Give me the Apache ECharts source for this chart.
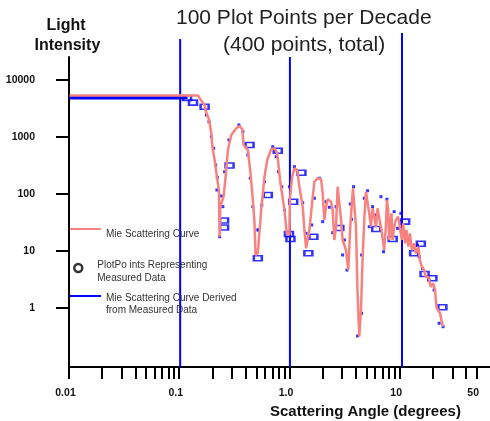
<!DOCTYPE html>
<html>
<head>
<meta charset="utf-8">
<script src="https://cdn.jsdelivr.net/npm/echarts@6/dist/echarts.min.js"></script>
<style>
html,body{margin:0;padding:0;background:#fff;}
#chart{width:490px;height:421px;}
</style>
</head>
<body>
<div id="chart"></div>
<script>
// ---- Data ----
// Mie scattering curve (pink)
const mieAngle = [0.0101,0.02,0.05,0.1,0.148,0.1555,0.170,0.1738,0.1861,0.1956,0.1998,0.2096,0.2198,0.2292,0.2326,0.2360,0.2527,0.2635,0.2764,0.2968,0.3293,0.3528,0.3731,0.3835,0.4195,0.4436,0.4655,0.4824,0.4925,0.5166,0.5543,0.5940,0.6284,0.6831,0.7315,0.7739,0.8290,0.9011,0.9454,1.0,1.01,1.058,1.110,1.174,1.231,1.319,1.367,1.416,1.464,1.517,1.592,1.684,1.804,1.936,2.002,2.074,2.149,2.222,2.385,2.466,2.554,2.646,2.736,2.835,2.938,3.037,3.26,3.42,3.565,3.664,3.772,3.875,4.013,4.149,4.30,4.456,4.606,4.773,4.945,5.113,5.297,5.489,5.674,5.879,6.091,6.297,6.523,6.842,7.237,7.50,7.659,7.868,8.035,8.204,8.43,8.606,8.917,9.24,9.69,10.1,10.47,10.76,11.21,11.52,12.01,12.37,12.9,13.53,14.02,14.79,15.23,15.88,16.66,17.26,18.22,19.16,20.1,20.96,21.27,21.72,22.44,23.25,24.09,24.76];
const mieIntensity = [5350,5350,5350,5350,5350,4580,3640,2890,2040,1161,676,395,201,117.5,17.8,59.9,89.7,201,591,1084,1421,1560,1365,724,591,231,78.5,30.6,8.51,9.22,52.4,201,395,608,634,518,154,52.4,20.4,19.1,84.1,201,282,264,134,59.9,23.4,11.2,11.9,23.4,59.9,164,189,181,103,35.0,59.9,80.7,73.3,52.4,15.6,26.7,134,126,35.0,15.6,10.4,4.64,26.7,59.9,126,126,26.7,1.81,0.314,0.922,6.95,35.0,110,110,45.8,26.7,56.1,59.9,26.7,56.1,37.5,23.4,10.4,26.7,78.5,52.4,15.6,26.7,45.8,15.6,26.7,35.0,40.0,40.0,15.6,30.6,13.6,23.4,11.9,20.4,10.4,13.6,9.11,11.9,6.95,5.30,4.64,3.54,3.54,2.36,2.71,2.07,1.38,0.988,1.05,0.807,0.575,0.47];

// Mie curve derived from measured data (blue, flat part)
const derivedAngle = [0.0101,0.119];
const derivedIntensity = [4930,4930];

// Measured plot points: small dots
const dotAngle = [0.1763,0.1861,0.1956,0.2052,0.2140,0.2216,0.2198,0.2409,0.2490,0.2580,0.2823,0.3477,0.3779,0.4195,0.4410,0.4655,0.5166,0.2326,0.7063,0.7578,0.7951,0.5940,0.5613,0.5243,0.8517,0.9011,1.0,1.1098,1.319,1.416,1.592,1.684,1.868,2.002,2.149,2.301,2.646,2.466,3.147,3.037,3.328,3.565,3.819,3.664,4.511,4.149,4.511,4.773,5.113,5.674,6.759,7.136,7.659,8.917,9.552,10.25,11.77,14.49,15.02,16.08,18.49,20.52,22.79,24.76,5.297,6.091];
const dotIntensity = [2432,1855,1012,634,323,196,117.5,92.2,59.9,246,886,1624,1239,483,189,59.9,23.4,17.8,676,451,246,164,64.1,23.4,134,52.4,134,301,70.4,20.4,28.6,84.1,189,32.7,73.3,58.5,59.9,20.9,15.6,8.51,4.64,66.8,134,36.0,0.807,0.323,8.51,84.1,114,59.9,89.7,9.72,80.7,48.9,25.0,45.8,16.7,12.7,7.94,4.97,3.10,2.07,0.539,0.47,26.7,42.8];

// Measured plot points: hollow boxes
const boxAngle = [0.1178,0.1333,0.170,0.2864,0.4345,0.2553,0.2553,0.5166,0.7837,0.6362,1.284,1.082,0.9897,1.021,1.649,1.485,11.21,15.56,13.53,16.83,19.81,24.4,6.129,2.835,8.643];
const boxIntensity = [4830,4000,3400,316,724,34.3,25.8,7.44,575,96,236,73.3,19.9,16.2,17.8,9.11,32.7,13.4,9.11,3.95,3.32,1.03,24.3,25.3,16.2];

// Decade marker lines (blue verticals): angle, top intensity
const markerAngle = [0.102,1.01,10.5];
const markerTop = [52300,25300,66800];

// Axis ticks / labels
const xTickValues = [0.01,0.02,0.03,0.04,0.05,0.06,0.07,0.08,0.09,0.1,0.2,0.3,0.4,0.5,0.6,0.7,0.8,0.9,1,2,3,4,5,6,7,8,9,10,20,30,40,50];
const xLabelValues = [0.01,0.1,1,10,50];
const xLabelTexts = ['0.01','0.1','1.0','10','50'];
const yTickValues = [1,10,100,1000,10000];
const yLabelTexts = ['1','10','100','1000','10000'];

const Y_MIN = 0.0922, Y_MAX = 25300, X_MIN = 0.01, X_MAX = 66;

// ---- Build ----
const zip = (a,b) => a.map((v,i)=>[v,b[i]]);
const FONT = 'Liberation Sans, Arial, Helvetica, sans-serif';
const BLUE = '#0000ff';
const PINK = '#f7827f';

const NAME_MIE = 'Mie Scattering Curve';
const NAME_PTS = 'PlotPo ints Representing\nMeasured Data';
const NAME_DER = 'Mie Scattering Curve Derived\nfrom Measured Data';

const markerSeries = markerAngle.map((a,i)=>({
  type:'line', name:'marker'+i, silent:true, clip:false, symbol:'none', z:1,
  data:[[a,Y_MIN],[a,markerTop[i]]],
  lineStyle:{color:BLUE,width:2}, animation:false
}));

function legendText(gap, lh){
  return {
    fontFamily:FONT, fontSize:10, color:'#333', lineHeight:lh,
    rich:{ gap:{ fontSize:1, lineHeight:gap } }
  };
}

const chart = echarts.init(document.getElementById('chart'), null, {renderer:'canvas'});
chart.setOption({
  animation:false,
  backgroundColor:'#fff',
  title:[
    {text:'100 Plot Points per Decade', left:176, top:8, padding:0,
     textStyle:{fontFamily:FONT,fontSize:21,fontWeight:'normal',color:'#222'}},
    {text:'(400 points, total)', left:223, top:34.5, padding:0,
     textStyle:{fontFamily:FONT,fontSize:21,fontWeight:'normal',color:'#222'}},
    {text:'Light', left:46.5, top:18, padding:0,
     textStyle:{fontFamily:FONT,fontSize:16,fontWeight:'bold',color:'#111'}},
    {text:'Intensity', left:34.5, top:38, padding:0,
     textStyle:{fontFamily:FONT,fontSize:16,fontWeight:'bold',color:'#111'}},
    {text:'Scattering Angle (degrees)', left:270, top:404, padding:0,
     textStyle:{fontFamily:FONT,fontSize:15,fontWeight:'bold',color:'#111'}}
  ],
  legend:[
    {
      orient:'vertical', selectedMode:false, padding:0,
      data:[{name:NAME_MIE, icon:'rect'}], left:70, top:218, itemWidth:31, itemHeight:2,
      itemStyle:{borderWidth:0},
      formatter:function(n){ return '{gap| }\n' + n; },
      textStyle:legendText(10, 12)
    },
    {
      orient:'vertical', selectedMode:false, padding:0,
      data:[{name:NAME_PTS, icon:'circle', itemStyle:{color:'#fff', borderColor:'#000', borderWidth:2.5}}],
      left:73, top:251.5, itemWidth:28, itemHeight:8,
      formatter:function(n){ return '{gap| }\n' + n; },
      textStyle:legendText(7, 13)
    },
    {
      orient:'vertical', selectedMode:false, padding:0,
      data:[{name:NAME_DER, icon:'rect'}], left:70, top:276, itemWidth:31, itemHeight:2,
      itemStyle:{borderWidth:0},
      formatter:function(n){ return '{gap| }\n' + n; },
      textStyle:legendText(16, 12)
    }
  ],
  grid:{left:69, right:0, top:57, bottom:54, containLabel:false, outerBoundsMode:'none'},
  xAxis:{
    type:'log', logBase:10, min:X_MIN, max:X_MAX,
    splitLine:{show:false}, minorTick:{show:false}, minorSplitLine:{show:false},
    axisLine:{show:true, lineStyle:{color:'#000', width:2}},
    axisTick:{show:true, inside:false, length:12, customValues:xTickValues, lineStyle:{color:'#000', width:2}},
    axisLabel:{show:true, customValues:xLabelValues, margin:21, padding:[0,7,0,0],
      fontFamily:FONT, fontSize:10.5, fontWeight:'bold', color:'#111',
      formatter:function(v){ for(let i=0;i<xLabelValues.length;i++){ if(Math.abs(Math.log10(v)-Math.log10(xLabelValues[i]))<1e-6) return xLabelTexts[i]; } return ''; }}
  },
  yAxis:{
    type:'log', logBase:10, min:Y_MIN, max:Y_MAX,
    splitLine:{show:false}, minorTick:{show:false}, minorSplitLine:{show:false},
    axisLine:{show:true, lineStyle:{color:'#000', width:2}},
    axisTick:{show:true, inside:false, length:13, customValues:yTickValues, lineStyle:{color:'#000', width:2}},
    axisLabel:{show:true, customValues:yTickValues, margin:34,
      fontFamily:FONT, fontSize:10.5, fontWeight:'bold', color:'#111',
      formatter:function(v){ for(let i=0;i<yTickValues.length;i++){ if(Math.abs(Math.log10(v)-Math.log10(yTickValues[i]))<1e-6) return yLabelTexts[i]; } return ''; }}
  },
  series:[
    ...markerSeries,
    {type:'line', name:NAME_DER, data:zip(derivedAngle,derivedIntensity), symbol:'none', z:2,
     lineStyle:{color:BLUE,width:4}, itemStyle:{color:BLUE}},
    {type:'scatter', name:'measuredDots', data:zip(dotAngle,dotIntensity), symbol:'rect', symbolSize:3, z:2,
     itemStyle:{color:BLUE}},
    {type:'scatter', name:NAME_PTS, data:zip(boxAngle,boxIntensity), symbol:'rect', symbolSize:[8,5], z:2,
     itemStyle:{color:'rgba(0,0,0,0)', borderColor:BLUE, borderWidth:2}},
    {type:'line', name:NAME_MIE, data:zip(mieAngle,mieIntensity), symbol:'none', z:3,
     lineStyle:{color:PINK,width:2.5}, itemStyle:{color:PINK}}
  ]
});
</script>
</body>
</html>
